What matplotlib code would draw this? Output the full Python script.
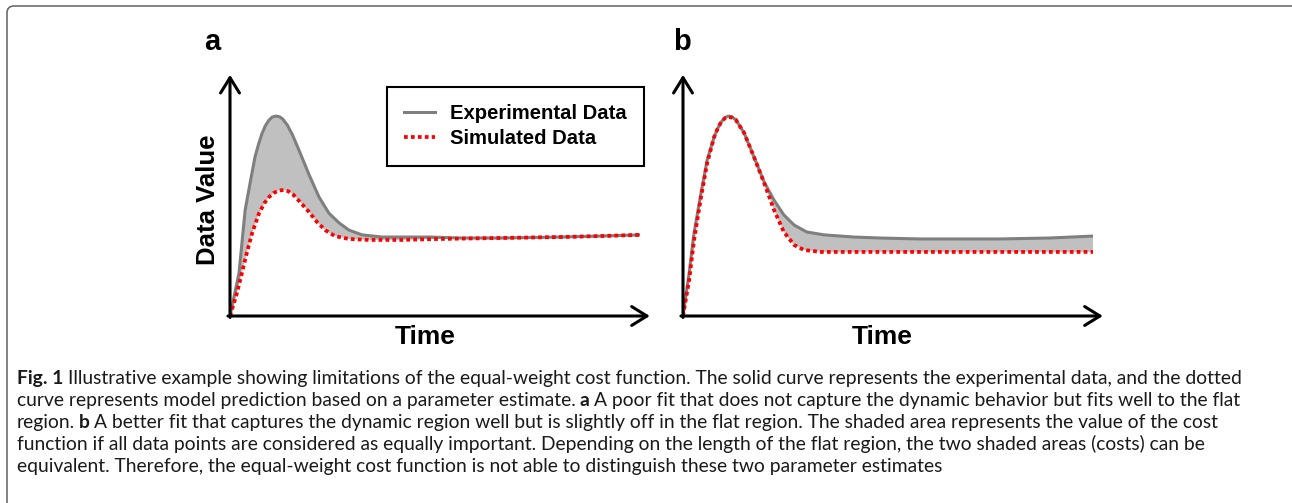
import numpy as np
import matplotlib
matplotlib.use('Agg')
from matplotlib import pyplot as plt
from matplotlib import font_manager
from matplotlib.patches import FancyBboxPatch
from matplotlib.transforms import IdentityTransform

W, H = 1292, 503

# panel a: time (0-100) and data value (0-100)
t_exp_a = [0, 2.2, 3.7, 4.9, 6.1, 7.0, 7.8, 8.6, 9.5, 10.3, 11.2, 12.1, 12.9, 14.0,
           15.2, 16.8, 19.3, 21.7, 24.1, 26.6, 29.0, 32.2, 37.1, 42.0, 48.8, 56.1,
           65.9, 80.5, 90.2, 100]
v_exp_a = [0, 17.9, 44.2, 55.4, 66.3, 71.8, 76.0, 79.2, 81.6, 82.9, 83.3, 83.0, 82.0, 79.5,
           75.6, 69.2, 58.8, 49.6, 42.9, 38.8, 35.8, 33.8, 32.9, 32.9, 32.9, 32.5,
           32.5, 32.9, 33.3, 33.8]
t_sim_a = [0, 1.7, 2.9, 4.1, 5.4, 7.1, 8.5, 9.6, 10.7, 11.9, 13.1, 14.2, 15.4, 17.1, 19.3,
           21.2, 23.2, 25.6, 29.0, 33.9, 41.9, 51.2, 65.9, 80.5, 90.2, 100]
v_sim_a = [0, 9.6, 17.9, 26.3, 34.6, 42.9, 47.3, 49.7, 51.3, 52.3, 52.5, 52.0, 50.6, 47.5, 43.3,
           39.2, 35.8, 33.3, 32.1, 31.7, 31.7, 32.1, 32.5, 32.9, 33.3, 33.8]

# panel b
t_exp_b = [0, 1.5, 2.7, 4.4, 5.9, 7.6, 8.5, 9.3, 10.2, 11.0, 11.9, 12.9, 14.9, 17.3, 19.8,
           22.2, 24.6, 27.1, 30.2, 34.4, 41.7, 48.0, 57.8, 68.3, 77.3, 89.5, 100]
v_exp_b = [0, 17.9, 34.6, 51.3, 65.0, 74.6, 78.3, 80.8, 82.6, 83.3, 83.0, 81.7, 76.3, 66.3,
           55.8, 48.3, 42.1, 37.9, 35.0, 33.8, 32.9, 32.5, 32.1, 32.1, 32.1, 32.5, 33.3]
t_sim_b = [0, 1.5, 2.7, 4.4, 5.9, 7.6, 8.5, 9.3, 10.2, 11.0, 11.9, 12.9, 14.9, 17.3, 19.8,
           22.2, 24.6, 27.1, 29.5, 33.7, 41.7, 65.1, 100]
v_sim_b = [0, 15.0, 31.7, 49.6, 63.8, 74.6, 78.3, 80.8, 82.4, 82.9, 82.7, 81.7, 76.3, 66.3,
           55.4, 44.2, 35.0, 29.6, 27.5, 26.7, 26.7, 26.7, 26.7]

caption = [
    [('Fig. 1', 'bold'), ('Illustrative example showing limitations of the equal-weight cost function. '
                          'The solid curve represents the experimental data, and the dotted', 'normal')],
    [('curve represents model prediction based on a parameter estimate.', 'normal'), ('a', 'bold'),
     ('A poor fit that does not capture the dynamic behavior but fits well to the flat', 'normal')],
    [('region.', 'normal'), ('b', 'bold'),
     ('A better fit that captures the dynamic region well but is slightly off in the flat region. '
      'The shaded area represents the value of the cost', 'normal')],
    [('function if all data points are considered as equally important. Depending on the length of '
      'the flat region, the two shaded areas (costs) can be', 'normal')],
    [('equivalent. Therefore, the equal-weight cost function is not able to distinguish these two '
      'parameter estimates', 'normal')],
]


def pick_font(names):
    for n in names:
        try:
            font_manager.findfont(n, fallback_to_default=False)
            return n
        except ValueError:
            pass
    return 'DejaVu Sans'


bold_font = pick_font(['Liberation Sans', 'Arial'])
cap_font = pick_font(['Liberation Sans Narrow', 'Lato', 'Open Sans'])

GREY = '#7f7f7f'
FILL = '#c0c0c0'
RED = '#ff0000'

fig = plt.figure(figsize=(W / 100, H / 100), dpi=100)


def px(x, y):
    return x / W, 1 - y / H


def panel(x0, t_exp, v_exp, t_sim, v_sim):
    # origin of the axes at pixel (x0, 316); 410 px wide, 240 px tall
    ax = fig.add_axes([x0 / W, 1 - 316 / H, 410 / W, 240 / H])
    ax.set_xlim(0, 100)
    ax.set_ylim(0, 100)
    ax.axis('off')
    ax.fill(np.r_[t_exp, t_sim[::-1]], np.r_[v_exp, v_sim[::-1]],
            color=FILL, lw=0, zorder=1)
    l1, = ax.plot(t_exp, v_exp, color=GREY, lw=2.2, solid_joinstyle='round',
                  label='Experimental Data', zorder=2)
    l2, = ax.plot(t_sim, v_sim, color=RED, lw=2.7, linestyle=(0, (1, 0.85)),
                  dash_capstyle='butt', label='Simulated Data', zorder=3)
    arrow = dict(arrowstyle='->,head_length=0.55,head_width=0.34', lw=2.2,
                 color='black', mutation_scale=20, shrinkA=0, shrinkB=0)
    ax.annotate('', xy=(0, 100.5), xytext=(0, -0.6), arrowprops=arrow,
                annotation_clip=False)
    ax.annotate('', xy=(102.4, 0), xytext=(-0.5, 0), arrowprops=arrow,
                annotation_clip=False)
    return ax, l1, l2


ax_a, h1, h2 = panel(230, t_exp_a, v_exp_a, t_sim_a, v_sim_a)
ax_b, _, _ = panel(683, t_exp_b, v_exp_b, t_sim_b, v_sim_b)

leg = ax_a.legend(handles=[h1, h2], loc='upper left',
                  bbox_to_anchor=px(387, 87), bbox_transform=fig.transFigure,
                  prop={'family': bold_font, 'weight': 'bold', 'size': 14.6},
                  frameon=True, fancybox=False, edgecolor='black', framealpha=1,
                  borderpad=0.85, handlelength=1.5, handletextpad=0.75,
                  labelspacing=0.3, borderaxespad=0)
leg.get_frame().set_linewidth(1.5)

lab = dict(family=bold_font, weight='bold', ha='center', va='center')
fig.text(*px(212, 42), 'a', fontsize=21, **lab)
fig.text(*px(682, 42), 'b', fontsize=21, **lab)
fig.text(*px(208, 200), 'Data Value', fontsize=18.5, rotation=90, **lab)
fig.text(*px(425, 337), 'Time', fontsize=19, **lab)
fig.text(*px(882, 337), 'Time', fontsize=19, **lab)

# caption, one line at a time; bold and regular pieces chained left to right
cap_size = 13.9
for i, pieces in enumerate(caption):
    prev = None
    for txt, wt in pieces:
        kw = dict(fontsize=cap_size, family=cap_font, weight=wt, va='bottom',
                  ha='left', color='#1a1a1a')
        if prev is None:
            prev = fig.text(*px(17, 387 + 22 * i), txt, **kw)
        else:
            prev = fig.add_artist(plt.Annotation(txt, xy=(1, 0), xycoords=prev,
                                                 xytext=(0.22 * cap_size, 0),
                                                 textcoords='offset points', **kw))

# frame around the figure (top and left edges only)
fig.add_artist(FancyBboxPatch((7, -30), 1320, 497 + 30,
                              boxstyle='round,pad=0,rounding_size=7',
                              transform=IdentityTransform(), fill=False,
                              ec='#606060', lw=1.1))

fig.savefig('out.png', dpi=100)
